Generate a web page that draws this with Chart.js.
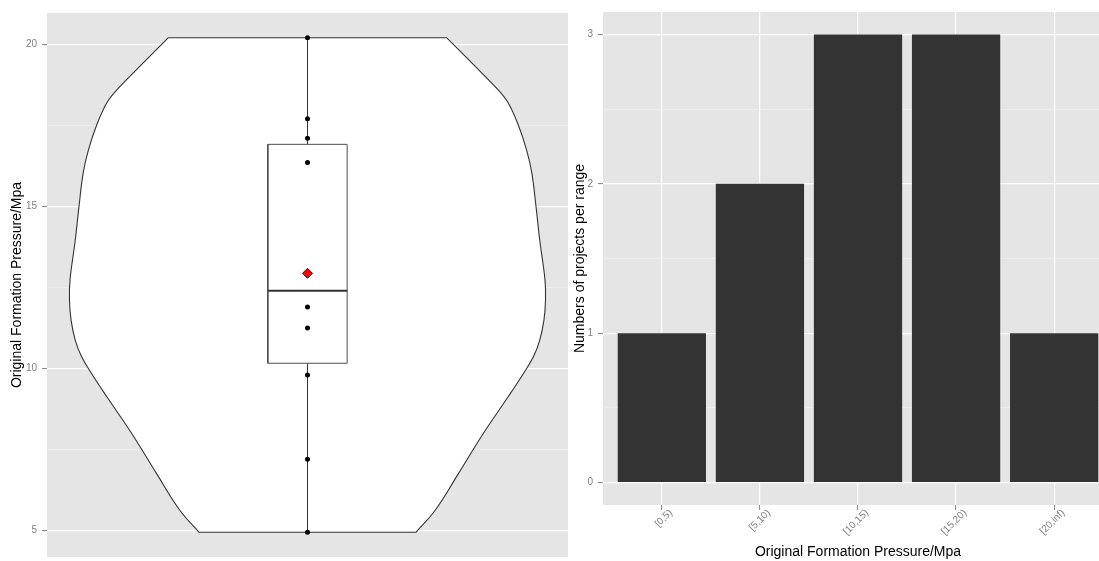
<!DOCTYPE html>
<html>
<head>
<meta charset="utf-8">
<script src="https://cdn.jsdelivr.net/npm/chart.js@4.4.1/dist/chart.umd.min.js"></script>
<style>
  html, body { margin: 0; padding: 0; background: #fff; overflow: hidden; }
  #wrap { position: relative; width: 1099px; height: 561px; overflow: hidden; }
  #violin { position: absolute; left: 0; top: 0; }
  #bars { position: absolute; left: 568px; top: 0; }
</style>
</head>
<body>
<div id="wrap">
  <canvas id="violin" width="568" height="561"></canvas>
  <canvas id="bars" width="545" height="561"></canvas>
</div>
<script>
// original formation pressure of each project (MPa)
var pressure = [4.95, 7.2, 9.8, 11.25, 11.9, 12.9, 16.35, 17.1, 17.7, 20.2];

// violin outline, top to bottom: pressure level and half width (x units)
var violinLevel = [20.2, 19.4, 18.6, 18.2, 17.53, 16.75, 16.04, 15.0, 13.97, 12.73,
                   12.11, 11.49, 10.87, 10.36, 9.84, 9.12, 7.99, 6.75, 5.62, 4.95];
var violinHalf = [0.263, 0.312, 0.360, 0.379, 0.398, 0.414, 0.424, 0.432, 0.439, 0.449,
                  0.450, 0.447, 0.439, 0.427, 0.408, 0.379, 0.332, 0.285, 0.241, 0.205];
var pressureTicks = [5, 10, 15, 20];

// projects per pressure range
var rangeLabels = ['[0,5)', '[5,10)', '[10,15)', '[15,20)', '[20,inf)'];
var projectCounts = [1, 2, 3, 3, 1];
var countTicks = [0, 1, 2, 3];

Chart.defaults.font.family = "'Liberation Sans', Arial, sans-serif";

var GREY_TEXT = '#7f7f7f';
var PANEL = '#e5e5e5';

function quantile(sorted, p) {
  var h = (sorted.length - 1) * p;
  var lo = Math.floor(h);
  var hi = Math.min(lo + 1, sorted.length - 1);
  return sorted[lo] + (h - lo) * (sorted[hi] - sorted[lo]);
}

// major ticks plus a minor one half way between each pair
function withMinor(major) {
  var all = [];
  for (var i = 0; i < major.length; i++) {
    all.push(major[i]);
    if (i < major.length - 1) all.push((major[i] + major[i + 1]) / 2);
  }
  return all;
}

function gridFor(major) {
  var isMajor = function (ctx) { return ctx.tick && major.indexOf(ctx.tick.value) >= 0; };
  return {
    color: function (ctx) { return isMajor(ctx) ? '#ffffff' : '#f2f2f2'; },
    lineWidth: function (ctx) { return isMajor(ctx) ? 1.2 : 0.6; },
    tickColor: function (ctx) { return isMajor(ctx) ? GREY_TEXT : 'rgba(0,0,0,0)'; },
    tickLength: 5,
    tickWidth: 1
  };
}

// fixed axis width, and no extra room for the end labels
function fixWidth(w) {
  return function (s) {
    s.width = w;
    s.paddingTop = 0;
    s.paddingBottom = 0;
  };
}

var panelBg = {
  id: 'panelBg',
  beforeDraw: function (chart) {
    var a = chart.chartArea, c = chart.ctx;
    c.save();
    c.fillStyle = PANEL;
    c.fillRect(a.left, a.top, a.right - a.left, a.bottom - a.top);
    c.restore();
  }
};

// ---- violin + boxplot ----
var sorted = pressure.slice().sort(function (a, b) { return a - b; });
var q1 = quantile(sorted, 0.25);
var med = quantile(sorted, 0.5);
var q3 = quantile(sorted, 0.75);
var iqr = q3 - q1;
var lowW = sorted.filter(function (v) { return v >= q1 - 1.5 * iqr; })[0];
var highW = sorted.filter(function (v) { return v <= q3 + 1.5 * iqr; }).pop();
var mean = pressure.reduce(function (s, v) { return s + v; }, 0) / pressure.length;
var boxHalf = 0.075;

var span = sorted[sorted.length - 1] - sorted[0];
var yLo = sorted[0] - 0.05 * span;
var yHi = sorted[sorted.length - 1] + 0.05 * span;

// closed outline; corner points are doubled so the curve keeps flat ends
var n = violinLevel.length;
var outline = [];
for (var i = 0; i < n; i++) outline.push({ x: -violinHalf[i], y: violinLevel[i] });
outline.push({ x: -violinHalf[n - 1], y: violinLevel[n - 1] });
outline.push({ x: violinHalf[n - 1], y: violinLevel[n - 1] });
for (var j = n - 1; j >= 0; j--) outline.push({ x: violinHalf[j], y: violinLevel[j] });
outline.push({ x: violinHalf[0], y: violinLevel[0] });
outline.push({ x: -violinHalf[0], y: violinLevel[0] });

var boxPath = [
  { x: -boxHalf, y: q1 }, { x: boxHalf, y: q1 }, { x: boxHalf, y: q3 },
  { x: -boxHalf, y: q3 }, { x: -boxHalf, y: q1 }
];

function path(data, opts) {
  return Object.assign({
    data: data, showLine: true, pointRadius: 0, tension: 0,
    borderColor: '#333333', borderWidth: 1, fill: false
  }, opts);
}

new Chart('violin', {
  type: 'scatter',
  data: {
    datasets: [
      path(outline, { fill: 'shape', backgroundColor: '#ffffff', tension: 0.4, borderWidth: 1.1, order: 6 }),
      path([{ x: 0, y: lowW }, { x: 0, y: highW }], { order: 5 }),
      path(boxPath, { fill: 'shape', backgroundColor: '#ffffff', borderColor: '#4d4d4d', order: 4 }),
      path([{ x: -boxHalf, y: med }, { x: boxHalf, y: med }], { borderWidth: 2, order: 3 }),
      {
        data: pressure.map(function (v) { return { x: 0, y: v }; }),
        pointRadius: 2.5, backgroundColor: '#000000', borderWidth: 0, order: 2
      },
      {
        data: [{ x: 0, y: mean }],
        pointStyle: 'rectRot', pointRadius: 5, backgroundColor: '#ff0000',
        borderColor: '#222222', borderWidth: 1, order: 1
      }
    ]
  },
  options: {
    animation: false, responsive: false, events: [],
    layout: { autoPadding: false, padding: { top: 13, bottom: 4, left: 0, right: 0 } },
    plugins: { legend: { display: false }, tooltip: { enabled: false } },
    scales: {
      x: { type: 'linear', min: -0.4925, max: 0.4925, display: false },
      y: {
        min: yLo, max: yHi,
        afterBuildTicks: function (s) {
          s.ticks = withMinor(pressureTicks).map(function (v) { return { value: v }; });
        },
        afterFit: fixWidth(47),
        ticks: {
          color: GREY_TEXT, font: { size: 10 }, padding: 5,
          callback: function (v) { return pressureTicks.indexOf(v) >= 0 ? String(v) : ''; }
        },
        grid: gridFor(pressureTicks),
        border: { display: false },
        title: {
          display: true, text: 'Original Formation Pressure/Mpa', color: '#000000',
          font: { size: 14 }, padding: { top: 9, bottom: 0 }
        }
      }
    }
  },
  plugins: [panelBg]
});

// ---- counts per range ----
new Chart('bars', {
  type: 'bar',
  data: {
    datasets: [{
      data: projectCounts.map(function (c, i) { return { x: i + 1, y: c }; }),
      backgroundColor: '#333333', borderWidth: 0,
      barPercentage: 0.9, categoryPercentage: 1
    }]
  },
  options: {
    animation: false, responsive: false, events: [],
    layout: { autoPadding: false, padding: { top: 12, bottom: 0, left: 0, right: 0 } },
    plugins: { legend: { display: false }, tooltip: { enabled: false } },
    scales: {
      x: {
        type: 'linear', min: 0.4, max: rangeLabels.length + 0.6, offset: false,
        afterBuildTicks: function (s) {
          s.ticks = rangeLabels.map(function (l, i) { return { value: i + 1 }; });
        },
        afterFit: function (s) { s.height = 56; },
        ticks: {
          color: GREY_TEXT, font: { size: 10 }, padding: -3, labelOffset: 9,
          minRotation: 45, maxRotation: 45, autoSkip: false,
          callback: function (v) { return rangeLabels[Math.round(v) - 1]; }
        },
        grid: {
          offset: false, color: '#ffffff', lineWidth: 1.2,
          tickColor: GREY_TEXT, tickLength: 5, tickWidth: 1
        },
        border: { display: false },
        title: {
          display: true, text: 'Original Formation Pressure/Mpa', color: '#000000',
          font: { size: 14 }, padding: { top: 0, bottom: 0 }
        }
      },
      y: {
        min: -0.15, max: 3.15,
        afterBuildTicks: function (s) {
          s.ticks = withMinor(countTicks).map(function (v) { return { value: v }; });
        },
        afterFit: fixWidth(35),
        ticks: {
          color: GREY_TEXT, font: { size: 10 }, padding: 5,
          callback: function (v) { return countTicks.indexOf(v) >= 0 ? String(v) : ''; }
        },
        grid: gridFor(countTicks),
        border: { display: false },
        title: {
          display: true, text: 'Numbers of projects per range', color: '#000000',
          font: { size: 14 }, padding: { top: 4, bottom: 0 }
        }
      }
    }
  },
  plugins: [panelBg]
});
</script>
</body>
</html>
